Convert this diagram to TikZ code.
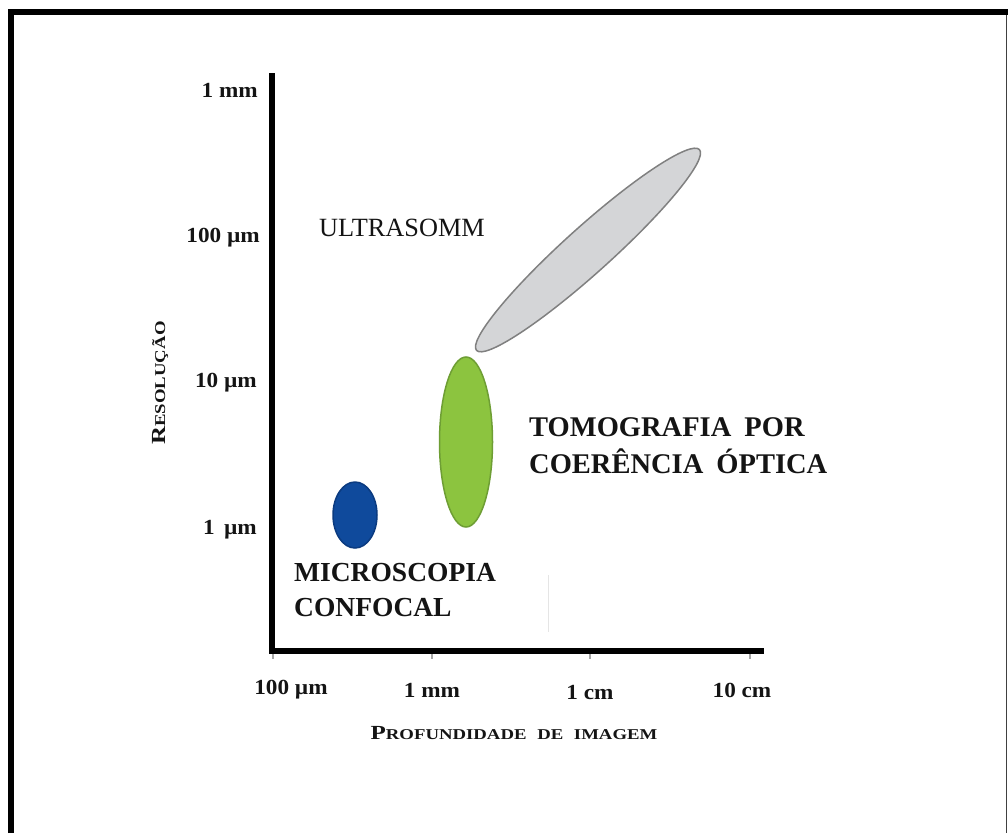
\documentclass[tikz,border=0pt]{standalone}
\usepackage{fontspec}
\setmainfont{Liberation Serif}
\newfontfamily\axfont[FakeStretch=1.25]{Liberation Serif}
\newfontfamily\tickfont[FakeStretch=1.08]{Liberation Serif}
\usetikzlibrary{shapes.geometric}
\definecolor{grayfill}{HTML}{D4D5D7}
\definecolor{grayline}{HTML}{808080}
\definecolor{greenfill}{HTML}{8CC43F}
\definecolor{greenline}{HTML}{6E9E34}
\definecolor{bluefill}{HTML}{0F4A9C}
\definecolor{blueline}{HTML}{0B3B80}
\definecolor{ink}{HTML}{141414}
\tikzset{
  blob/.style={ellipse, inner sep=0pt, line width=1.5pt},
  ticklab/.style={font=\tickfont\fontsize{21.5}{24}\selectfont\bfseries, text=ink, inner sep=0pt},
  biglab/.style={font=\fontsize{28.5}{37}\selectfont\bfseries, text=ink, inner sep=0pt, align=left, anchor=west},
  tickmark/.style={draw=gray!70, line width=2.5pt},
}
\begin{document}
\begin{tikzpicture}[x=1pt,y=-1pt]
\useasboundingbox (0,0) rectangle (1008,833);
\fill[white] (0,0) rectangle (1008,833);
% frame
\coordinate (fbl) at (11,833);
\coordinate (ftl) at (11,12);
\coordinate (ftr) at (1008,12);
\draw[line width=6pt, black] (fbl) -- (ftl) -- (ftr);
\coordinate (frt) at (1006.5,15);
\coordinate (frb) at (1006.5,833);
\draw[line width=1.5pt, black!75] (frt) -- (frb);
% faint artifact line
\coordinate (art1) at (548,575);
\coordinate (art2) at (548,632);
\draw[line width=0.8pt, black!10] (art1) -- (art2);
% axes
\coordinate (ytop) at (272,73);
\coordinate (orig) at (272,651);
\coordinate (xend) at (764,651);
\draw[line width=5.5pt, black] (ytop) -- (orig) -- (xend);
% x tick marks
\foreach \i/\x in {a/273,b/432,c/590,d/750}{
  \coordinate (t\i1) at (\x,654);
  \coordinate (t\i2) at (\x,659);
  \draw[tickmark] (t\i1) -- (t\i2);
}
% y tick labels
\node[ticklab, anchor=east] (y1) at (258,90) {1 mm};
\node[ticklab, anchor=east] (y2) at (260,238) {100 µm};
\node[ticklab, anchor=east] (y3) at (257,383) {10 µm};
\node[ticklab, anchor=east] (y4) at (257,530) {1 \,µm};
% x tick labels
\node[ticklab] (x1) at (291,690) {100 µm};
\node[ticklab] (x2) at (432,690) {1 mm};
\node[ticklab] (x3) at (590,692) {1 cm};
\node[ticklab] (x4) at (742,690) {10 cm};
% axis titles
\node[text=ink, inner sep=0pt, rotate=90] (ylab) at (160,383)
  {\axfont\bfseries{\fontsize{20}{20}\selectfont R}{\fontsize{15}{15}\selectfont ESOLUÇÃO}};
\node[text=ink, inner sep=0pt] (xlab) at (514,733)
  {\axfont\bfseries{\fontsize{20}{20}\selectfont P}{\fontsize{15}{15}\selectfont ROFUNDIDADE\hspace{6pt} DE\hspace{6pt} IMAGEM}};
% ellipses
\node[blob, fill=grayfill, draw=grayline, minimum width=300pt, minimum height=46pt, rotate=42] (us) at (588,250) {};
\node[blob, fill=greenfill, draw=greenline, minimum width=53pt, minimum height=170pt] (oct) at (466,442) {};
\node[blob, fill=bluefill, draw=blueline, minimum width=44pt, minimum height=66pt] (cm) at (355,515) {};
% labels
\node[font=\fontsize{26.3}{30}\selectfont, text=ink, inner sep=0pt, anchor=west] (usl) at (319,228) {ULTRASOMM};
\node[biglab] (octl) at (529,446) {TOMOGRAFIA\hspace{6pt} POR\\COERÊNCIA\hspace{6pt} ÓPTICA};
\node[biglab, font=\fontsize{27.5}{35}\selectfont\bfseries] (cml) at (294,590) {MICROSCOPIA\\CONFOCAL};
\end{tikzpicture}
\end{document}
